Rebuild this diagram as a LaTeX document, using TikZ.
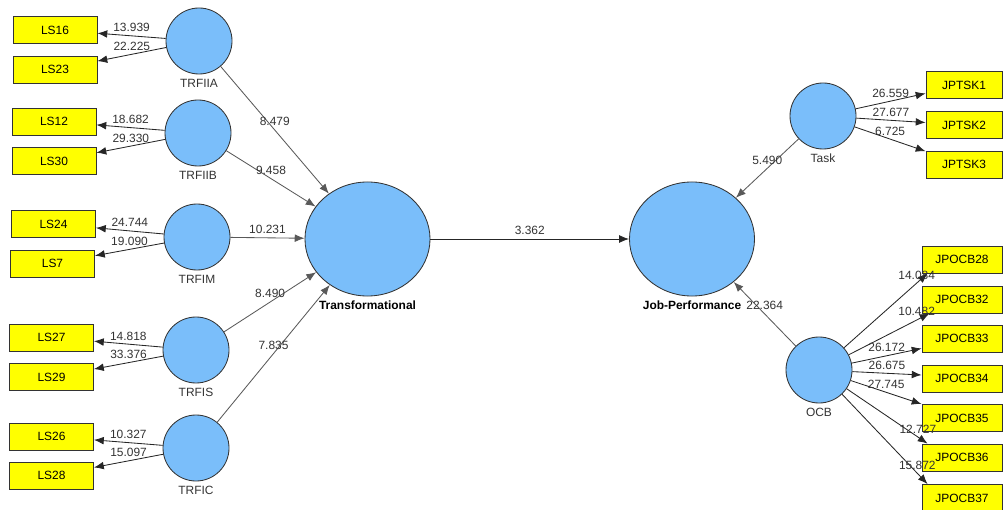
\documentclass[tikz,border=0pt]{standalone}
\usepackage{fontspec}
\setmainfont{Liberation Sans}
\usetikzlibrary{shapes.geometric,arrows.meta,calc}

\definecolor{lvblue}{RGB}{122,190,250}
\definecolor{mvyellow}{RGB}{255,255,0}

\tikzset{
  latent/.style={circle, draw=black!80, fill=lvblue, line width=0.6pt, minimum size=1.65cm, inner sep=0pt},
  bigvar/.style={ellipse, draw=black!80, fill=lvblue, line width=0.6pt, minimum width=3.125cm, minimum height=2.85cm, inner sep=0pt},
  indic/.style={rectangle, draw=black!80, fill=mvyellow, line width=0.6pt, minimum height=0.675cm, inner sep=0pt, font=\fontsize{8.5}{10}\selectfont},
  lvname/.style={anchor=north, inner sep=0pt, yshift=-3.2pt, font=\fontsize{8.5}{10}\selectfont, text=black!80},
  load/.style={-{Latex[length=7pt,width=5.5pt]}, line width=0.6pt, black!85},
  relpath/.style={-{Latex[length=7pt,width=5.5pt]}, line width=0.6pt, black!65},
  coef/.style={font=\fontsize{8.5}{10}\selectfont, text=black!80, inner sep=1pt, above=1.5pt},
}

\begin{document}
\begin{tikzpicture}[x=0.025cm, y=-0.025cm]
    \useasboundingbox (0,0) rectangle (1003,510);
    \clip (0,0) rectangle (1003,510);

    % indicators, left
    \node[indic, minimum width=2.1cm] (LS16) at (55,30) {LS16};
    \node[indic, minimum width=2.1cm] (LS23) at (55,69.5) {LS23};
    \node[indic, minimum width=2.1cm] (LS12) at (54,121.5) {LS12};
    \node[indic, minimum width=2.1cm] (LS30) at (54,161) {LS30};
    \node[indic, minimum width=2.1cm] (LS24) at (53.5,224) {LS24};
    \node[indic, minimum width=2.1cm] (LS7) at (52.5,263.5) {LS7};
    \node[indic, minimum width=2.1cm] (LS27) at (51.5,337.5) {LS27};
    \node[indic, minimum width=2.1cm] (LS29) at (51.5,377) {LS29};
    \node[indic, minimum width=2.1cm] (LS26) at (51.5,436.5) {LS26};
    \node[indic, minimum width=2.1cm] (LS28) at (51.5,475.5) {LS28};

    % dimensions
    \node[latent] (TRFIIA) at (199,41) {};
    \node[latent] (TRFIIB) at (198,133) {};
    \node[latent] (TRFIM) at (197,237) {};
    \node[latent] (TRFIS) at (196,350) {};
    \node[latent] (TRFIC) at (196,448) {};
    \node[lvname] (TRFIIA-name) at (TRFIIA.south) {TRFIIA};
    \node[lvname] (TRFIIB-name) at (TRFIIB.south) {TRFIIB};
    \node[lvname] (TRFIM-name) at (TRFIM.south) {TRFIM};
    \node[lvname] (TRFIS-name) at (TRFIS.south) {TRFIS};
    \node[lvname] (TRFIC-name) at (TRFIC.south) {TRFIC};

    \node[bigvar] (Trans) at (367.5,239) {};
    \node[bigvar] (JobPerf) at (692,239) {};
    \node[lvname, font=\fontsize{8.5}{10}\selectfont\bfseries, text=black] (Trans-name) at (Trans.south) {Transformational};
    \node[lvname, font=\fontsize{8.5}{10}\selectfont\bfseries, text=black] (JobPerf-name) at (JobPerf.south) {Job-Performance};

    \node[latent] (Task) at (823,116) {};
    \node[latent] (OCB) at (819,370) {};
    \node[lvname] (Task-name) at (Task.south) {Task};
    \node[lvname] (OCB-name) at (OCB.south) {OCB};

    % indicators, right
    \node[indic, minimum width=1.9cm] (JPTSK1) at (964,85) {JPTSK1};
    \node[indic, minimum width=1.9cm] (JPTSK2) at (964,125) {JPTSK2};
    \node[indic, minimum width=1.9cm] (JPTSK3) at (964,164.5) {JPTSK3};
    \node[indic, minimum width=2cm] (JPOCB28) at (962,259.5) {JPOCB28};
    \node[indic, minimum width=2cm] (JPOCB32) at (962,299.5) {JPOCB32};
    \node[indic, minimum width=2cm] (JPOCB33) at (962,338.5) {JPOCB33};
    \node[indic, minimum width=2cm] (JPOCB34) at (962,378.5) {JPOCB34};
    \node[indic, minimum width=2cm] (JPOCB35) at (962,418) {JPOCB35};
    \node[indic, minimum width=2cm] (JPOCB36) at (962,457.5) {JPOCB36};
    \node[indic, minimum width=2cm] (JPOCB37) at (962,498) {JPOCB37};

    % outer loadings
    \draw[load] (TRFIIA) -- (LS16) node[coef, midway] {13.939};
    \draw[load] (TRFIIA) -- (LS23) node[coef, midway] {22.225};
    \draw[load] (TRFIIB) -- (LS12) node[coef, midway] {18.682};
    \draw[load] (TRFIIB) -- (LS30) node[coef, midway] {29.330};
    \draw[load] (TRFIM) -- (LS24) node[coef, midway] {24.744};
    \draw[load] (TRFIM) -- (LS7) node[coef, midway] {19.090};
    \draw[load] (TRFIS) -- (LS27) node[coef, midway] {14.818};
    \draw[load] (TRFIS) -- (LS29) node[coef, midway] {33.376};
    \draw[load] (TRFIC) -- (LS26) node[coef, midway] {10.327};
    \draw[load] (TRFIC) -- (LS28) node[coef, midway] {15.097};

    \draw[load] (Task) -- (JPTSK1) node[coef, midway] {26.559};
    \draw[load] (Task) -- (JPTSK2) node[coef, midway] {27.677};
    \draw[load] (Task) -- (JPTSK3) node[coef, midway] {6.725};

    \draw[load] (OCB) -- ($(JPOCB28.south west)+(6,0)$) node[coef, pos=0.87] {14.084};
    \draw[load] (OCB) -- ($(JPOCB32.south west)+(8,0)$) node[coef, pos=0.84] {10.482};
    \draw[load] (OCB) -- ($(JPOCB33.south west)+(0,-4)$) node[coef, midway] {26.172};
    \draw[load] (OCB) -- ($(JPOCB34.west)+(0,-3.5)$) node[coef, midway] {26.675};
    \draw[load] (OCB) -- (JPOCB35.north west) node[coef, midway] {27.745};
    \draw[load] (OCB) -- ($(JPOCB36.north west)+(6,0)$) node[coef, pos=0.88] {12.727};
    \draw[load] (OCB) -- ($(JPOCB37.north west)+(6,0)$) node[coef, pos=0.88] {15.872};

    % inner model
    \draw[relpath] (TRFIIA) -- (Trans) node[coef, midway] {8.479};
    \draw[relpath] (TRFIIB) -- (Trans) node[coef, midway] {9.458};
    \draw[relpath] (TRFIM) -- (Trans) node[coef, midway] {10.231};
    \draw[relpath] (TRFIS) -- (Trans) node[coef, midway] {8.490};
    \draw[relpath] (TRFIC) -- (Trans) node[coef, midway] {7.835};
    \draw[load] (Trans) -- (JobPerf) node[coef, midway] {3.362};
    \draw[relpath] (Task) -- (JobPerf) node[coef, midway] {5.490};
    \draw[relpath] (OCB) -- (JobPerf) node[coef, midway] {22.364};
\end{tikzpicture}
\end{document}
